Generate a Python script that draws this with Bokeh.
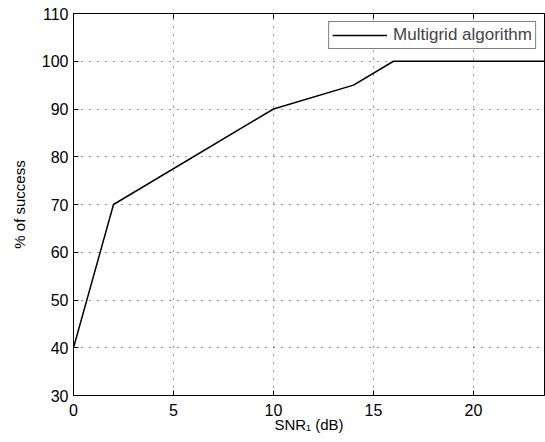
from bokeh.plotting import figure
from bokeh.models import LinearAxis, Range1d, Legend, LegendItem, FixedTicker
from bokeh.embed import file_html
from bokeh.resources import INLINE

snr_db = [0, 2, 10, 14, 16, 23.6]
success_pct = [40, 70, 90, 95, 100, 100]
x_ticks = [0, 5, 10, 15, 20]
y_ticks = [30, 40, 50, 60, 70, 80, 90, 100, 110]

FONT = "Liberation Sans"

p = figure(width=545, height=442, output_backend="svg", toolbar_location=None,
           x_range=Range1d(0, 23.55), y_range=Range1d(30, 110),
           min_border_left=73, min_border_right=1, min_border_top=13, min_border_bottom=47)
p.background_fill_color = "white"
p.border_fill_color = "white"
p.outline_line_color = "black"
p.outline_line_width = 1

r = p.line(snr_db, success_pct, line_color="black", line_width=1.5)

for ax in [p.xaxis[0], p.yaxis[0]]:
    ax.major_tick_in = 5
    ax.major_tick_out = 0
    ax.minor_tick_in = 0
    ax.minor_tick_out = 0
    ax.axis_line_color = "black"
    ax.major_label_text_font = FONT
    ax.major_label_text_font_size = "16px"
    ax.major_label_text_color = "black"
    ax.axis_label_text_font = FONT
    ax.axis_label_text_font_size = "15px"
    ax.axis_label_text_font_style = "normal"
    ax.axis_label_text_color = "black"

p.xaxis[0].ticker = FixedTicker(ticks=x_ticks)
p.yaxis[0].ticker = FixedTicker(ticks=y_ticks)
p.xaxis[0].axis_label = "SNR₁ (dB)"
p.yaxis[0].axis_label = "% of success"
p.xaxis[0].major_label_standoff = 8
p.xaxis[0].axis_label_standoff = -3
p.yaxis[0].major_label_standoff = 5
p.yaxis[0].axis_label_standoff = 11

top = LinearAxis(ticker=FixedTicker(ticks=x_ticks),
                 major_label_overrides={t: "" for t in x_ticks},
                 major_tick_in=5, major_tick_out=0, minor_tick_in=0, minor_tick_out=0,
                 major_label_standoff=0, axis_line_color="black")
p.add_layout(top, "above")

p.xgrid.ticker = FixedTicker(ticks=x_ticks)
p.ygrid.ticker = FixedTicker(ticks=y_ticks)
for g in [p.xgrid[0], p.ygrid[0]]:
    g.grid_line_color = "#333333"
    g.grid_line_dash = "1 7"
    g.grid_line_width = 1

legend = Legend(items=[LegendItem(label="Multigrid algorithm", renderers=[r])],
                location="top_right", label_text_font=FONT, label_text_font_size="17px",
                border_line_color="black", border_line_width=1, glyph_width=55,
                margin=8, padding=3, spacing=0, label_standoff=6, label_height=18,
                background_fill_alpha=1)
p.add_layout(legend, "center")

open("out.html", "w").write(file_html(p, INLINE))
